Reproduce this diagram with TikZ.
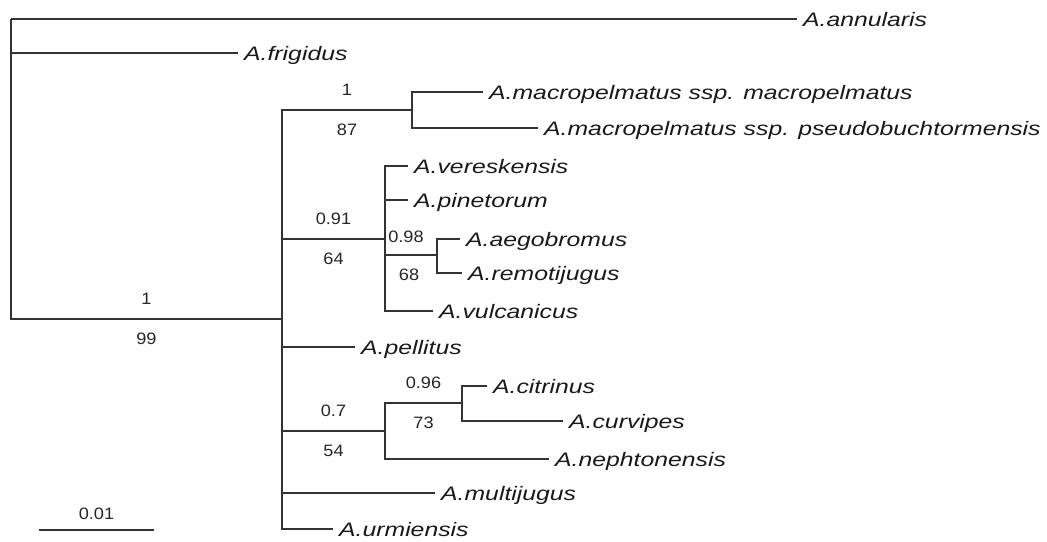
\documentclass[tikz,border=0pt]{standalone}
\usepackage{fontspec}
\setmainfont{Liberation Sans}
\newfontfamily\treefont[FakeStretch=1.27]{Liberation Sans}
\newfontfamily\suppfont[FakeStretch=1.1]{Liberation Sans}

\begin{document}
\begin{tikzpicture}[
  x=1pt, y=-1pt,
  branch/.style={line width=1.6pt, draw=black!80},
  taxon/.style={font=\treefont\itshape\fontsize{19.5}{22}\selectfont, anchor=west,
    inner xsep=6pt, inner ysep=0pt, text height=14pt, text depth=0pt, text=black!90},
  supp/.style={font=\suppfont\fontsize{16.5}{19}\selectfont, inner sep=0pt,
    text height=11.8pt, text depth=0pt, text=black!85}
  ]
  \useasboundingbox (0,0) rectangle (1047,541);

  % Define internal nodes
  \coordinate (root) at (11,19);
  \coordinate (main) at (282,319);
  \coordinate (mac) at (412,110);
  \coordinate (ver) at (385,239);
  \coordinate (aeg) at (437,255);
  \coordinate (cit) at (385,431);
  \coordinate (cur) at (462,403);

  % Define leaves
  \node[taxon] (annu) at (797,19) {A.annularis};
  \node[taxon] (frig) at (238,53) {A.frigidus};
  \node[taxon] (macm) at (483,92) {A.macropelmatus ssp. macropelmatus};
  \node[taxon] (macp) at (538,128) {A.macropelmatus ssp. pseudobuchtormensis};
  \node[taxon] (vere) at (408,166) {A.vereskensis};
  \node[taxon] (pine) at (408,200) {A.pinetorum};
  \node[taxon] (aego) at (460,239) {A.aegobromus};
  \node[taxon] (remo) at (462,273) {A.remotijugus};
  \node[taxon] (vulc) at (433,311) {A.vulcanicus};
  \node[taxon] (pell) at (355,347) {A.pellitus};
  \node[taxon] (citr) at (487,386) {A.citrinus};
  \node[taxon] (curv) at (563,421) {A.curvipes};
  \node[taxon] (neph) at (549,459) {A.nephtonensis};
  \node[taxon] (mult) at (435,493) {A.multijugus};
  \node[taxon] (urmi) at (333,529) {A.urmiensis};

  % Root
  \draw[branch] (root) |- (annu.west);
  \draw[branch] (root) |- (frig.west);
  \draw[branch] (root) |- (main)
    node[supp, pos=0.75, yshift=20pt] (pp1) {1}
    node[supp, pos=0.75, yshift=-20pt] (bs1) {99};

  % Main clade
  \draw[branch] (main) |- (mac)
    node[supp, pos=0.75, yshift=20pt] (pp2) {1}
    node[supp, pos=0.75, yshift=-20pt] (bs2) {87};
  \draw[branch] (main) |- (ver)
    node[supp, pos=0.75, yshift=20pt] (pp3) {0.91}
    node[supp, pos=0.75, yshift=-20pt] (bs3) {64};
  \draw[branch] (main) |- (pell.west);
  \draw[branch] (main) |- (cit)
    node[supp, pos=0.75, yshift=20pt] (pp4) {0.7}
    node[supp, pos=0.75, yshift=-20pt] (bs4) {54};
  \draw[branch] (main) |- (mult.west);
  \draw[branch] (main) |- (urmi.west);

  % macropelmatus
  \draw[branch] (mac) |- (macm.west);
  \draw[branch] (mac) |- (macp.west);

  % vereskensis group
  \draw[branch] (ver) |- (vere.west);
  \draw[branch] (ver) |- (pine.west);
  \draw[branch] (ver) |- (aeg)
    node[supp, pos=0.75, xshift=-5pt, yshift=18pt] (pp5) {0.98}
    node[supp, pos=0.75, xshift=-2pt, yshift=-20pt] (bs5) {68};
  \draw[branch] (ver) |- (vulc.west);
  \draw[branch] (aeg) |- (aego.west);
  \draw[branch] (aeg) |- (remo.west);

  % citrinus group
  \draw[branch] (cit) |- (cur)
    node[supp, pos=0.75, yshift=20pt] (pp6) {0.96}
    node[supp, pos=0.75, yshift=-20pt] (bs6) {73};
  \draw[branch] (cit) |- (neph.west);
  \draw[branch] (cur) |- (citr.west);
  \draw[branch] (cur) |- (curv.west);

  % Scale bar
  \coordinate (sb1) at (39,530);
  \coordinate (sb2) at (154,530);
  \draw[branch] (sb1) -- (sb2) node[supp, midway, yshift=16pt] (sbl) {0.01};

\end{tikzpicture}
\end{document}
